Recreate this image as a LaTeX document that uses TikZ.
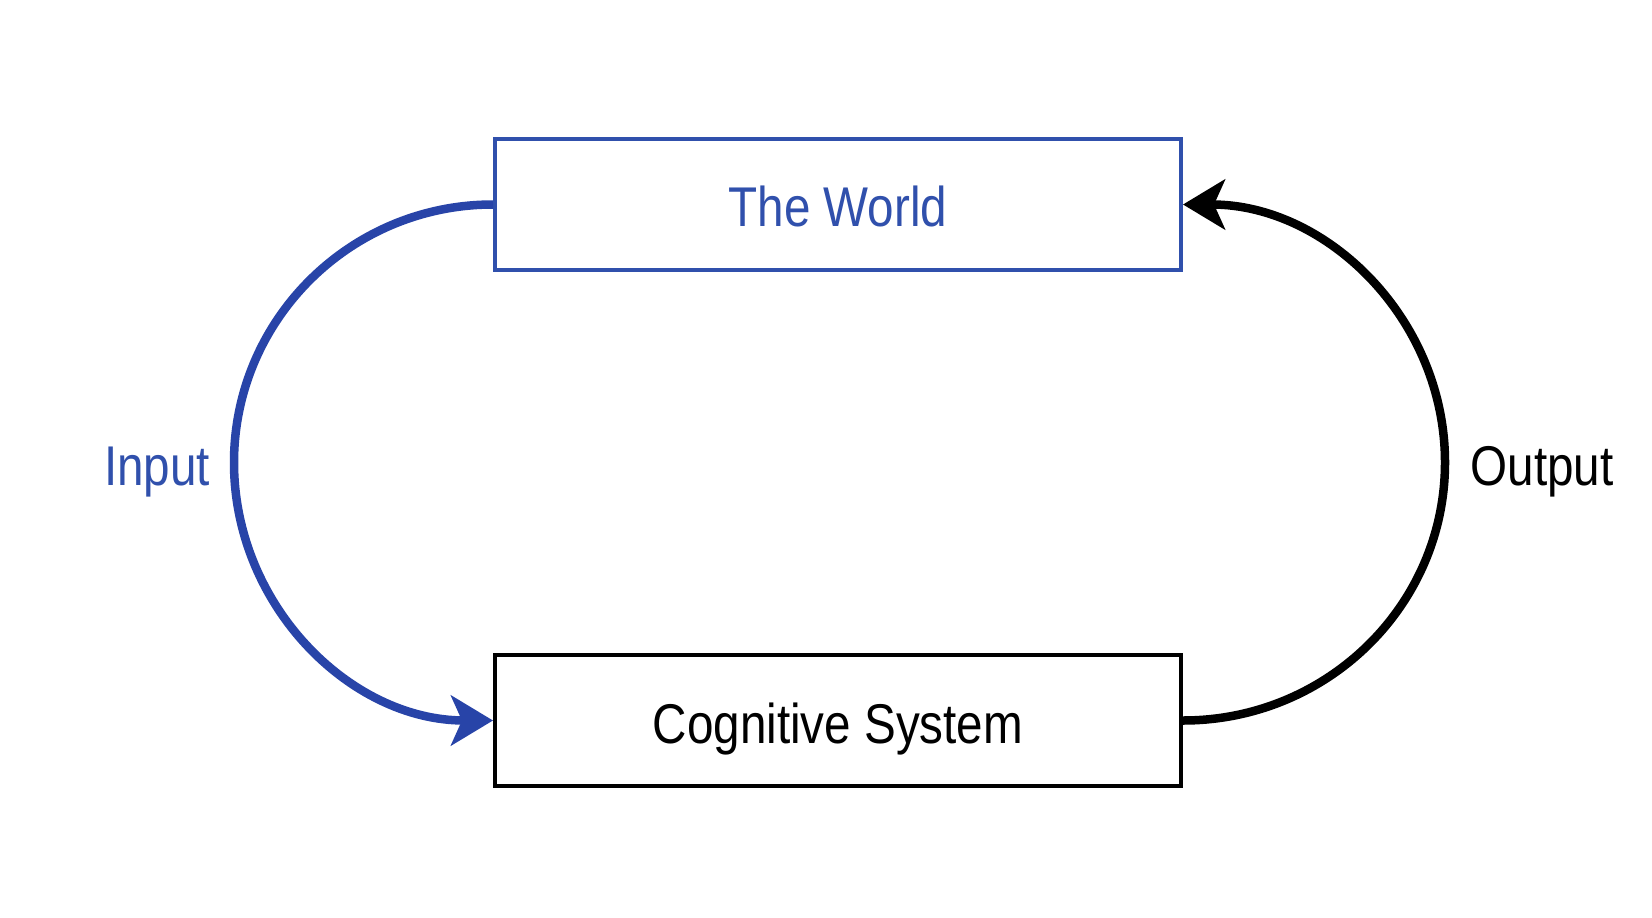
\documentclass[tikz,border=0pt]{standalone}
\usepackage{fontspec}
\setmainfont{Liberation Sans}[FakeStretch=0.85]
\usetikzlibrary{arrows.meta}
\definecolor{wblue}{RGB}{48,80,172}
\definecolor{ablue}{RGB}{40,68,168}
\tikzset{
  box/.style={draw, line width=4pt, minimum width=686pt, minimum height=131pt, inner sep=0pt},
  lbl/.style={font=\fontsize{56}{60}\selectfont, inner sep=0pt, anchor=base},
  conn/.style={line width=8.5pt, -{Stealth[length=42pt, width=50pt, inset=11pt]}},
}
\begin{document}
\begin{tikzpicture}[x=1pt, y=-1pt]
\useasboundingbox[fill=white] (0,0) rectangle (1652,918);
\node[box, draw=wblue] (world) at (838,204.5) {};
\node[box, draw=black] (cog) at (838,720.5) {};
\node[lbl, text=wblue] (worldtxt) at (838,226.5) {The World};
\node[lbl, text=black] (cogtxt) at (838,743) {Cognitive System};
\node[lbl, text=wblue] (input) at (157,485) {Input};
\node[lbl, text=black] (output) at (1542,485) {Output};
\draw[conn, draw=ablue] (world.west) arc[start angle=90, end angle=270, x radius=259pt, y radius=258pt];
\draw[conn, draw=black] (cog.east) arc[start angle=-90, end angle=90, x radius=262pt, y radius=258pt];
\end{tikzpicture}
\end{document}
